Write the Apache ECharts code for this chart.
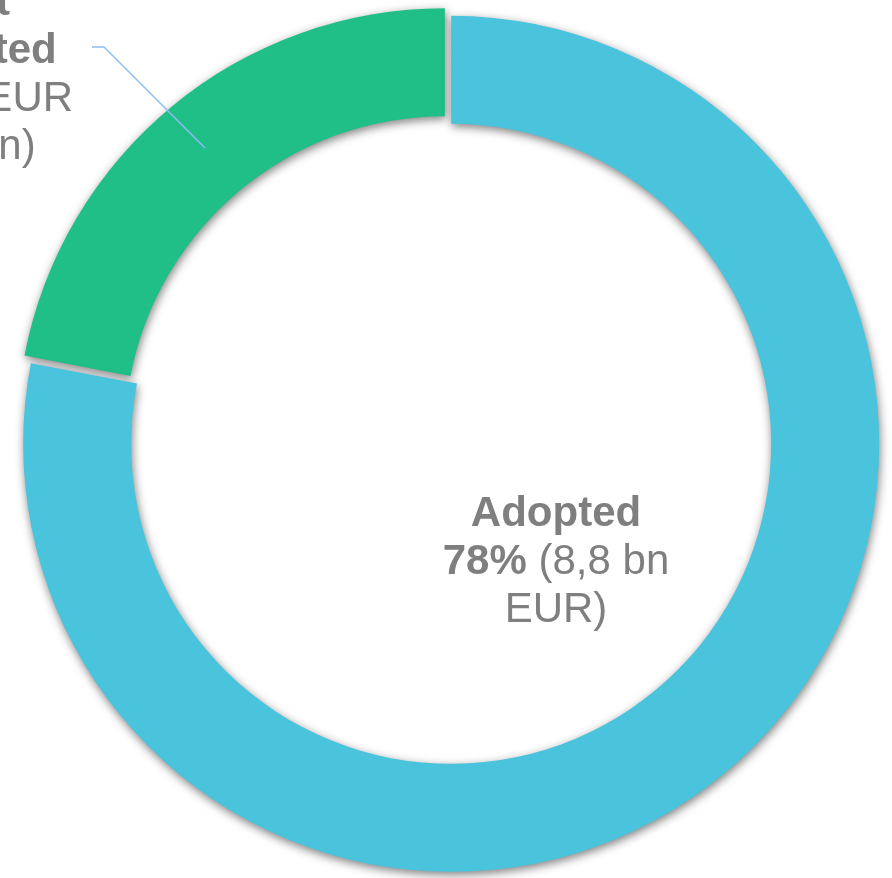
<!DOCTYPE html>
<html>
<head>
<meta charset="utf-8">
<script src="https://cdn.jsdelivr.net/npm/echarts@6/dist/echarts.min.js"></script>
<style>
html,body{margin:0;padding:0;background:#fff;}
#chart{width:892px;height:878px;}
</style>
</head>
<body>
<div id="chart"></div>
<script>
// Data
var categories = ['Adopted', 'Not adopted'];
var values = [8.8, 2.48];          // bn EUR
var colors = ['#4AC3DC', '#20BF88'];

function fmtNum(v) { return String(v).replace('.', ','); }

var chart = echarts.init(document.getElementById('chart'), null, {renderer: 'canvas'});

var labelColor = '#7F7F7F';
var rich = {
  b: {fontFamily: 'Liberation Sans, Arial, sans-serif', fontSize: 42, fontWeight: 'bold', color: labelColor, lineHeight: 48},
  n: {fontFamily: 'Liberation Sans, Arial, sans-serif', fontSize: 42, fontWeight: 'normal', color: labelColor, lineHeight: 48}
};

// exploded look: each slice drawn in its own series, shifted along its mid-angle
var baseCenter = [448, 440];
var explode = 5;
var total = values.reduce(function (a, b) { return a + b; }, 0);

function midAngle(idx) {
  var start = 90, acc = 0;
  for (var k = 0; k < idx; k++) acc += values[k];
  var a0 = start - acc / total * 360;
  var a1 = a0 - values[idx] / total * 360;
  return (a0 + a1) / 2 * Math.PI / 180;
}

function makeSeries(visibleIdx, withLabels, z) {
  var ang = midAngle(visibleIdx);
  var cx = baseCenter[0] + explode * Math.cos(ang);
  var cy = baseCenter[1] - explode * Math.sin(ang);
  return {
    type: 'pie',
    z: z,
    center: [cx, cy],
    radius: [320, 428],
    startAngle: 90,
    clockwise: true,
    avoidLabelOverlap: false,
    silent: true,
    emphasis: {disabled: true},
    label: {
      show: withLabels,
      position: 'outside',
      align: 'center',
      rich: rich,
      formatter: function (p) {
        var pct = Math.round(p.percent) + '%';
        if (p.dataIndex === 0) {
          return '{b|Adopted}\n{b|' + pct + '}{n| (' + fmtNum(p.value) + ' bn}\n{n|EUR)}';
        }
        return '{b|Not}\n{b|adopted}\n{n|(' + fmtNum(p.value) + ' EUR}\n{n|billion)}';
      }
    },
    labelLine: {
      show: withLabels,
      lineStyle: {color: '#8DBBF2', width: 1.5}
    },
    labelLayout: function (params) {
      if (params.dataIndex === 0) {
        return {x: 556, y: 562, align: 'center', verticalAlign: 'middle'};
      }
      return {
        x: -25, y: 75, align: 'center', verticalAlign: 'middle',
        labelLinePoints: [[205, 148], [104, 47], [92, 47]]
      };
    },
    data: categories.map(function (c, i) {
      var vis = i === visibleIdx;
      return {
        name: c,
        value: values[i],
        itemStyle: vis ? {
          color: colors[i],
          shadowBlur: 10,
          shadowOffsetX: 1,
          shadowOffsetY: 3,
          shadowColor: 'rgba(0,0,0,0.5)'
        } : {color: 'rgba(0,0,0,0)'},
        label: {show: withLabels},
        labelLine: {show: withLabels && i === 1}
      };
    })
  };
}

chart.setOption({
  animation: false,
  series: [makeSeries(1, false, 1), makeSeries(0, true, 2)]
});
</script>
</body>
</html>
